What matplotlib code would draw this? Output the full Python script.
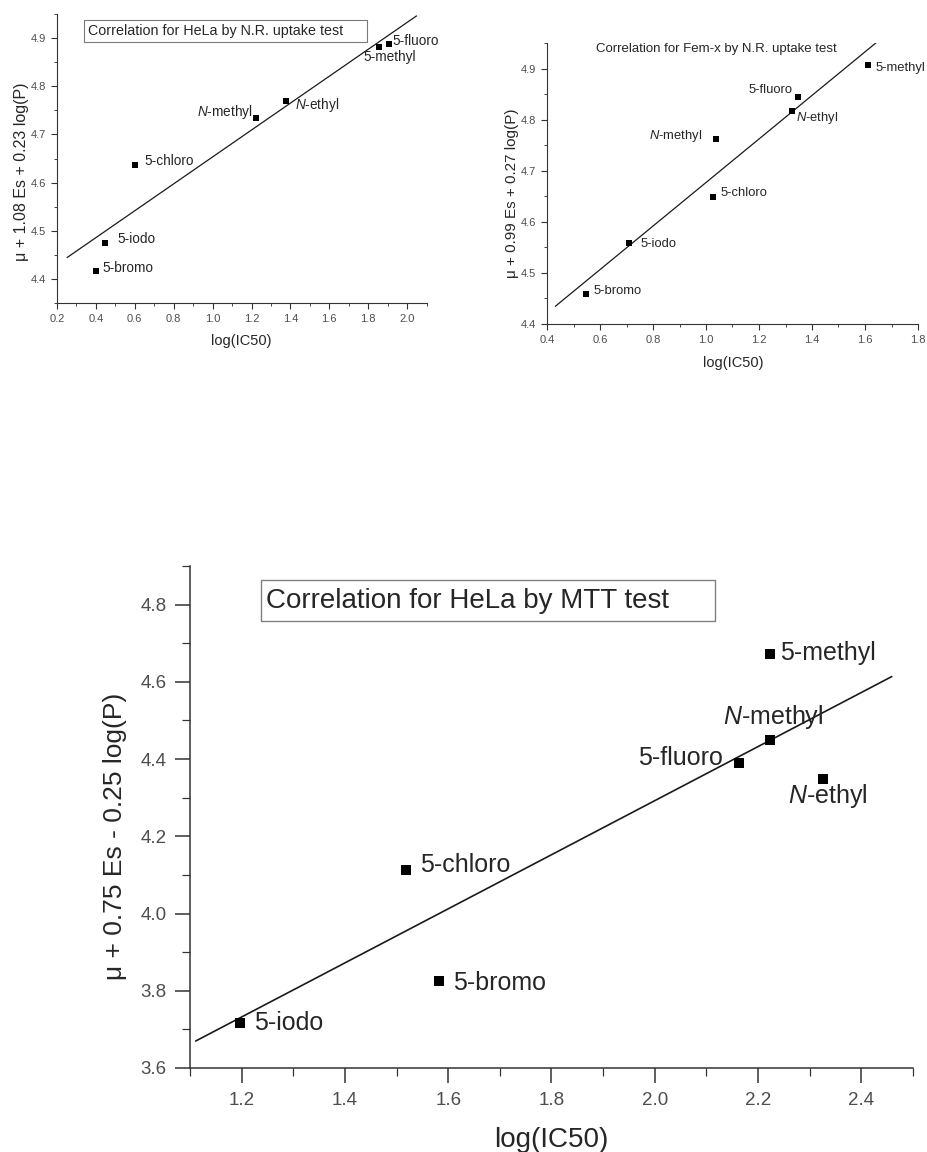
import numpy as np
import matplotlib
matplotlib.use("Agg")
import matplotlib.pyplot as plt
from matplotlib.patches import Rectangle
from matplotlib.ticker import MultipleLocator, FormatStrFormatter, FixedLocator

plt.rcParams['font.family'] = ['Liberation Sans', 'DejaVu Sans']
plt.rcParams['mathtext.fontset'] = 'custom'
plt.rcParams['mathtext.it'] = 'Liberation Sans:italic'
plt.rcParams['mathtext.rm'] = 'Liberation Sans'

# --- data -------------------------------------------------------------
# HeLa, neutral red uptake
nr_hela_compounds = ["5-bromo", "5-iodo", "5-chloro", "$N$-methyl", "$N$-ethyl", "5-methyl", "5-fluoro"]
nr_hela_log_ic50 = [0.400, 0.449, 0.603, 1.225, 1.377, 1.857, 1.905]
nr_hela_descriptor = [4.417, 4.475, 4.636, 4.734, 4.769, 4.882, 4.888]

# Fem-x, neutral red uptake
nr_femx_compounds = ["5-bromo", "5-iodo", "5-chloro", "$N$-methyl", "$N$-ethyl", "5-fluoro", "5-methyl"]
nr_femx_log_ic50 = [0.548, 0.709, 1.026, 1.036, 1.325, 1.347, 1.611]
nr_femx_descriptor = [4.458, 4.559, 4.648, 4.762, 4.817, 4.845, 4.906]

# HeLa, MTT
mtt_hela_compounds = ["5-iodo", "5-chloro", "5-bromo", "5-fluoro", "$N$-methyl", "5-methyl", "$N$-ethyl"]
mtt_hela_log_ic50 = [1.197, 1.519, 1.583, 2.164, 2.223, 2.223, 2.325]
mtt_hela_descriptor = [3.716, 4.112, 3.825, 4.389, 4.449, 4.671, 4.348]

nr_hela_xticks = [0.2, 0.4, 0.6, 0.8, 1.0, 1.2, 1.4, 1.6, 1.8, 2.0]
nr_hela_yticks = [4.4, 4.5, 4.6, 4.7, 4.8, 4.9]
nr_femx_xticks = [0.4, 0.6, 0.8, 1.0, 1.2, 1.4, 1.6, 1.8]
nr_femx_yticks = [4.4, 4.5, 4.6, 4.7, 4.8, 4.9]
mtt_xticks = [1.2, 1.4, 1.6, 1.8, 2.0, 2.2, 2.4]
mtt_yticks = [3.6, 3.8, 4.0, 4.2, 4.4, 4.6, 4.8]

# --- layout helpers (pixel coordinates, origin top-left) ------------------
W, H = 927, 1152
DPI = 100
fig = plt.figure(figsize=(W / DPI, H / DPI), dpi=DPI)
fig.patch.set_facecolor('white')


def box(l, t, r, b):
    return [l / W, 1 - b / H, (r - l) / W, (b - t) / H]


def fx(x):
    return x / W


def fy(y):
    return 1 - y / H


TEXT = '#262626'
TICKTXT = '#4d4d4d'


def panel(rect, x, y, names, offsets, xlim, ylim, xticks, yticks, fit_span,
          xlabel, ylabel, xlabel_pos, ylabel_pos, sizes):
    ax = fig.add_axes(box(*rect))
    ax.set_xlim(*xlim)
    ax.set_ylim(*ylim)
    for s in ('top', 'right'):
        ax.spines[s].set_visible(False)
    for s in ('left', 'bottom'):
        ax.spines[s].set_color('#333333')
        ax.spines[s].set_linewidth(sizes['spine'])

    ax.xaxis.set_major_locator(FixedLocator(xticks))
    ax.yaxis.set_major_locator(FixedLocator(yticks))
    dx = xticks[1] - xticks[0]
    dy = yticks[1] - yticks[0]
    ax.xaxis.set_minor_locator(MultipleLocator(dx / 2))
    ax.yaxis.set_minor_locator(MultipleLocator(dy / 2))
    ax.xaxis.set_major_formatter(FormatStrFormatter('%.1f'))
    ax.yaxis.set_major_formatter(FormatStrFormatter('%.1f'))
    ax.tick_params(which='major', direction='out', length=sizes['tick'],
                   width=sizes['spine'], pad=sizes['pad'], labelsize=sizes['ticklabel'],
                   labelcolor=TICKTXT, color='#333333')
    ax.tick_params(which='minor', direction='out', length=sizes['tick'] * 0.5,
                   width=sizes['spine'] * 0.8, color='#333333')

    # least-squares correlation line
    slope, intercept = np.polyfit(x, y, 1)
    xs = np.array(fit_span)
    ax.plot(xs, slope * xs + intercept, color='#1a1a1a', lw=sizes['line'],
            solid_capstyle='butt')

    ax.plot(x, y, 's', color='black', ms=sizes['marker'], mec='black', mew=0)

    for name, xi, yi in zip(names, x, y):
        ox, oy, ha = offsets[name]
        ax.annotate(name, (xi, yi), xytext=(ox, oy), textcoords='offset pixels',
                    ha=ha, va='center', fontsize=sizes['label'], color=TEXT)

    ax.set_xlabel(xlabel, fontsize=sizes['xlabel'], color=TEXT, va='center')
    ax.xaxis.set_label_coords(fx(xlabel_pos[0]), fy(xlabel_pos[1]), transform=fig.transFigure)
    ax.set_ylabel(ylabel, fontsize=sizes['ylabel'], color=TEXT, va='center')
    ax.yaxis.set_label_coords(fx(ylabel_pos[0]), fy(ylabel_pos[1]), transform=fig.transFigure)
    return ax


# --- panel 1: HeLa, N.R. uptake ------------------------------------------
small = dict(spine=0.8, tick=4.5, pad=3.5, ticklabel=8, line=0.9, marker=5,
             label=9.8, xlabel=10.5, ylabel=11.5)
panel((57, 14, 426.6, 303), nr_hela_log_ic50, nr_hela_descriptor, nr_hela_compounds,
      {"5-bromo": (7, 3, 'left'), "5-iodo": (12, 4, 'left'), "5-chloro": (9, 4, 'left'),
       "$N$-methyl": (-4, 6, 'right'), "$N$-ethyl": (9, -4, 'left'),
       "5-methyl": (-16, -10, 'left'), "5-fluoro": (4, 3, 'left')},
      (0.2, 2.1), (4.35, 4.95), nr_hela_xticks, nr_hela_yticks, (0.25, 2.05),
      "log(IC50)", "\u03bc + 1.08 Es + 0.23 log(P)", (241, 341.5), (22, 172), small)
fig.add_artist(Rectangle((fx(84), fy(42)), (367 - 84) / W, (42 - 20) / H,
                         transform=fig.transFigure, fill=False, ec='#7a7a7a', lw=0.8))
fig.text(fx(87.5), fy(31), "Correlation for HeLa by N.R. uptake test",
         ha='left', va='center', fontsize=10.3, color=TEXT)

# --- panel 2: Fem-x, N.R. uptake -----------------------------------------
small2 = dict(small, label=9.4, ylabel=11)
panel((547, 43, 918, 324), nr_femx_log_ic50, nr_femx_descriptor, nr_femx_compounds,
      {"5-bromo": (7, 3, 'left'), "5-iodo": (12, -1, 'left'), "5-chloro": (8, 4, 'left'),
       "$N$-methyl": (-13, 3, 'right'), "$N$-ethyl": (4, -7, 'left'),
       "5-fluoro": (-5, 7, 'right'), "5-methyl": (8, -3, 'left')},
      (0.4, 1.8), (4.4, 4.95), nr_femx_xticks, nr_femx_yticks, (0.43, 1.645),
      "log(IC50)", "\u03bc + 0.99 Es + 0.27 log(P)", (733, 362.5), (512, 193), small2)
fig.text(fx(596), fy(49), "Correlation for Fem-x by N.R. uptake test",
         ha='left', va='center', fontsize=9.5, color=TEXT)

# --- panel 3: HeLa, MTT ---------------------------------------------------
large = dict(spine=1.1, tick=11, pad=6, ticklabel=13.5, line=1.2, marker=7.5,
             label=18, xlabel=20, ylabel=19)
panel((190, 566, 913, 1068), mtt_hela_log_ic50, mtt_hela_descriptor, mtt_hela_compounds,
      {"5-iodo": (14, 0, 'left'), "5-chloro": (14, 5, 'left'), "5-bromo": (14, -2, 'left'),
       "5-fluoro": (-17, 5, 'right'), "$N$-methyl": (3, 23, 'center'),
       "5-methyl": (10, 1, 'left'), "$N$-ethyl": (5, -17, 'center')},
      (1.1, 2.5), (3.6, 4.9), mtt_xticks, mtt_yticks, (1.11, 2.46),
      "log(IC50)", "\u03bc + 0.75 Es - 0.25 log(P)", (551.5, 1140), (115, 836), large)
fig.add_artist(Rectangle((fx(261), fy(621)), (715 - 261) / W, (621 - 580) / H,
                         transform=fig.transFigure, fill=False, ec='#808080', lw=1.0))
fig.text(fx(266), fy(601), "Correlation for HeLa by MTT test",
         ha='left', va='center', fontsize=20, color=TEXT)

fig.savefig("out.png", dpi=DPI, facecolor='white')
